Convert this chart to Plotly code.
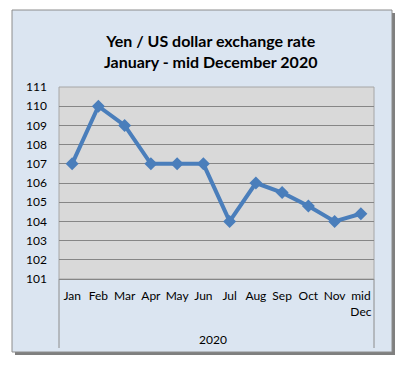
import plotly.graph_objects as go

months = ["Jan", "Feb", "Mar", "Apr", "May", "Jun", "Jul", "Aug", "Sep", "Oct", "Nov", "mid<br>Dec"]
rates = [107, 110, 109, 107, 107, 107, 104, 106, 105.5, 104.8, 104, 104.4]
y_ticks = list(range(101, 112))
year_label = "2020"
title_lines = ["Yen / US dollar exchange rate", "January - mid December 2020"]

# The page body has an 8px margin, so the figure sits at (8, 8) in the window.
O = 8
W, H = 409 - O, 372 - O
PL, PR, PT, PB = 59, 374, 87, 279  # plot area in window pixels
L, T = PL - O, PT - O
R, B = W - (PR - O), H - (PB - O)
pw, ph = PR - PL, PB - PT


def px(x):
    return (x - PL) / pw


def py(y):
    return (PB - y) / ph


FONT = "Lato"
fig = go.Figure()
fig.add_trace(go.Scatter(
    x=months, y=rates, mode="lines+markers",
    line=dict(color="#4a7ebb", width=4),
    marker=dict(symbol="diamond", size=10, color="#4a7ebb"),
    showlegend=False, hoverinfo="x+y",
))

shapes = [
    dict(type="rect", xref="paper", yref="paper", x0=px(15), x1=px(395), y0=py(355), y1=py(13),
         fillcolor="#7f7f7f", line=dict(width=0), layer="below"),
    dict(type="rect", xref="paper", yref="paper", x0=px(12), x1=px(392), y0=py(352), y1=py(10),
         fillcolor="#dbe5f1", line=dict(color="#8c8c8c", width=1), layer="below"),
    dict(type="rect", xref="paper", yref="paper", x0=0, x1=1, y0=0, y1=1,
         fillcolor="#d9d9d9", line=dict(color="#a6a6a6", width=1), layer="below"),
    dict(type="line", xref="paper", yref="paper", x0=0, x1=0, y0=0, y1=py(348),
         line=dict(color="#8c8c8c", width=1)),
    dict(type="line", xref="paper", yref="paper", x0=1, x1=1, y0=0, y1=py(348),
         line=dict(color="#8c8c8c", width=1)),
]

annotations = [
    dict(text="<b>" + "<br>".join(title_lines) + "</b>", xref="paper", yref="paper",
         x=px(210), y=py(51), xanchor="center", yanchor="middle", showarrow=False,
         font=dict(family=FONT, size=16, color="#000000")),
    dict(text=year_label, xref="paper", yref="paper", x=px(213), y=py(339),
         xanchor="center", yanchor="middle", showarrow=False,
         font=dict(family=FONT, size=12, color="#000000")),
]

fig.update_layout(
    width=W, height=H,
    margin=dict(l=L, r=R, t=T, b=B, pad=0),
    paper_bgcolor="#ffffff",
    plot_bgcolor="rgba(0,0,0,0)",
    shapes=shapes,
    annotations=annotations,
    font=dict(family=FONT, size=12, color="#000000"),
    xaxis=dict(
        type="category", range=[-0.5, len(months) - 0.5],
        showgrid=False, showline=True, linecolor="#868686", linewidth=1,
        ticks="", ticklabelstandoff=6, tickangle=0, fixedrange=True,
        tickfont=dict(family=FONT, size=12, color="#000000"),
    ),
    yaxis=dict(
        range=[101, 111], tickvals=y_ticks, ticktext=[str(v) for v in y_ticks],
        showgrid=True, gridcolor="#868686", gridwidth=1, zeroline=False,
        showline=False, ticks="", ticklabelstandoff=11, fixedrange=True,
        tickfont=dict(family=FONT, size=12, color="#000000"),
    ),
)

fig.write_html("out.html")
